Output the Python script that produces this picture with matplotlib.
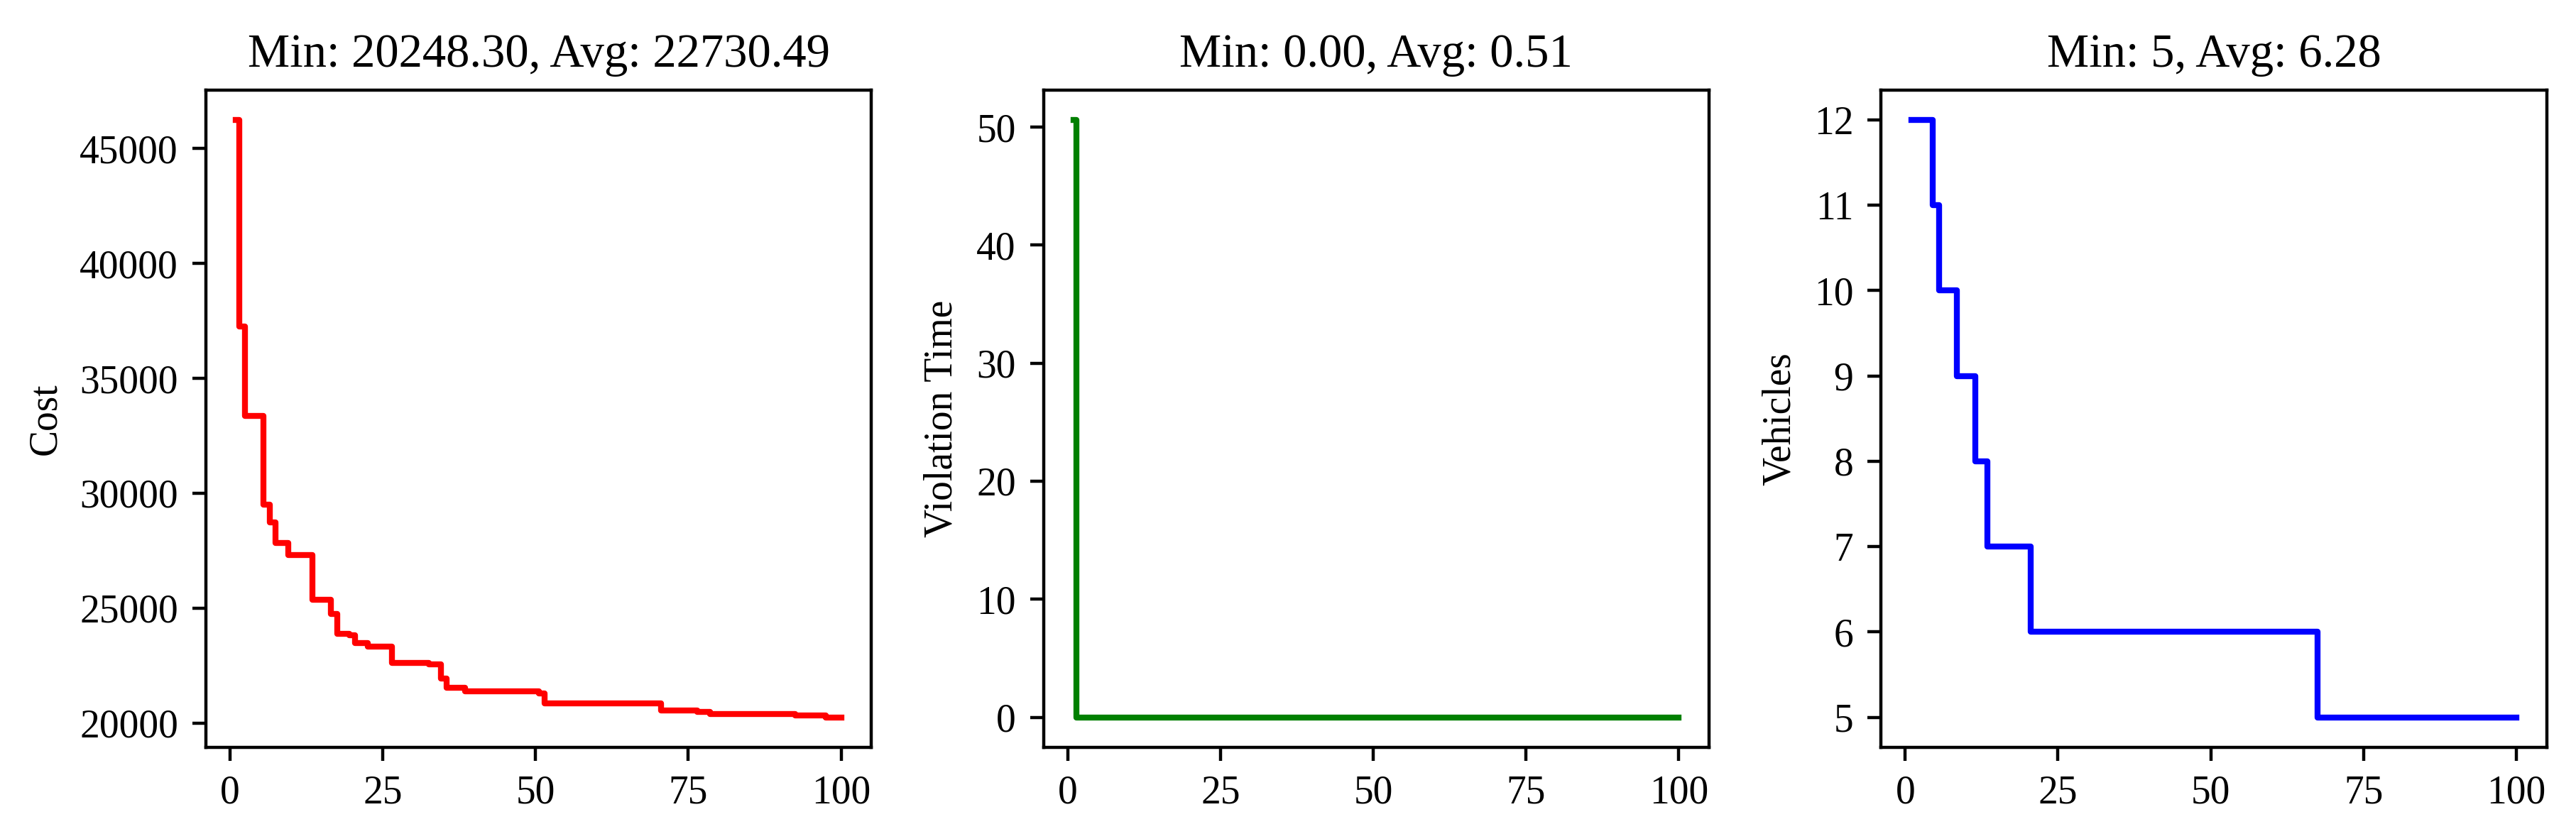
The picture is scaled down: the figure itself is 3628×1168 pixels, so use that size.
import numpy as np
import matplotlib as mpl
mpl.use('Agg')
import matplotlib.pyplot as plt

plt.rcParams['font.family'] = ['Liberation Serif', 'DejaVu Serif']

# best-of-generation history, generations 1..100
generations = list(range(1, 101))

cost = [
    46242, 37243, 33349, 33349, 33349, 29517, 28726, 27849, 27849, 27314,
    27314, 27314, 27314, 25367, 25367, 25367, 24759, 23893, 23893, 23830,
    23482, 23482, 23319, 23319, 23319, 23319, 22617, 22617, 22617, 22617,
    22617, 22617, 22555, 22555, 21947, 21545, 21545, 21545, 21382, 21382,
    21382, 21382, 21382, 21382, 21382, 21382, 21382, 21382, 21382, 21382,
    21298, 20853, 20853, 20853, 20853, 20853, 20853, 20853, 20853, 20853,
    20853, 20853, 20853, 20853, 20853, 20853, 20853, 20853, 20853, 20853,
    20556, 20556, 20556, 20556, 20556, 20556, 20476, 20476, 20392, 20392,
    20392, 20392, 20392, 20392, 20392, 20392, 20392, 20392, 20392, 20392,
    20392, 20392, 20320, 20320, 20320, 20320, 20320, 20248.3, 20248.3, 20248.3,
]

violation = [
    50.6, 0, 0, 0, 0, 0, 0, 0, 0, 0,
    0, 0, 0, 0, 0, 0, 0, 0, 0, 0,
    0, 0, 0, 0, 0, 0, 0, 0, 0, 0,
    0, 0, 0, 0, 0, 0, 0, 0, 0, 0,
    0, 0, 0, 0, 0, 0, 0, 0, 0, 0,
    0, 0, 0, 0, 0, 0, 0, 0, 0, 0,
    0, 0, 0, 0, 0, 0, 0, 0, 0, 0,
    0, 0, 0, 0, 0, 0, 0, 0, 0, 0,
    0, 0, 0, 0, 0, 0, 0, 0, 0, 0,
    0, 0, 0, 0, 0, 0, 0, 0, 0, 0,
]

vehicles = [
    12, 12, 12, 12, 11, 10, 10, 10, 9, 9,
    9, 8, 8, 7, 7, 7, 7, 7, 7, 7,
    6, 6, 6, 6, 6, 6, 6, 6, 6, 6,
    6, 6, 6, 6, 6, 6, 6, 6, 6, 6,
    6, 6, 6, 6, 6, 6, 6, 6, 6, 6,
    6, 6, 6, 6, 6, 6, 6, 6, 6, 6,
    6, 6, 6, 6, 6, 6, 6, 5, 5, 5,
    5, 5, 5, 5, 5, 5, 5, 5, 5, 5,
    5, 5, 5, 5, 5, 5, 5, 5, 5, 5,
    5, 5, 5, 5, 5, 5, 5, 5, 5, 5,
]

fig = plt.figure(figsize=(3628 / 400, 1168 / 400), dpi=400)
fig.subplots_adjust(left=0.0799, right=0.9886, bottom=0.0987, top=0.8913, wspace=0.2585)

# cost
ax1 = fig.add_subplot(131)
ax1.plot(generations, cost, 'r', lw=1.5, drawstyle='steps-mid')
ax1.set_ylabel("Cost")
ax1.set_title("Min: %.2f, Avg: %.2f" % (np.min(cost), np.mean(cost)))

# time window violation
ax2 = fig.add_subplot(132)
ax2.plot(generations, violation, 'g', lw=1.5, drawstyle='steps-mid')
ax2.set_ylabel("Violation Time")
ax2.set_title("Min: %.2f, Avg: %.2f" % (np.min(violation), np.mean(violation)))

# fleet size
ax3 = fig.add_subplot(133)
ax3.plot(generations, vehicles, 'b', lw=1.5, drawstyle='steps-mid')
ax3.set_ylabel("Vehicles")
ax3.set_title("Min: %d, Avg: %.2f" % (np.min(vehicles), np.mean(vehicles)))

for ax in (ax1, ax2, ax3):
    ax.set_xticks([0, 25, 50, 75, 100])

plt.savefig('out.png', dpi=400)
